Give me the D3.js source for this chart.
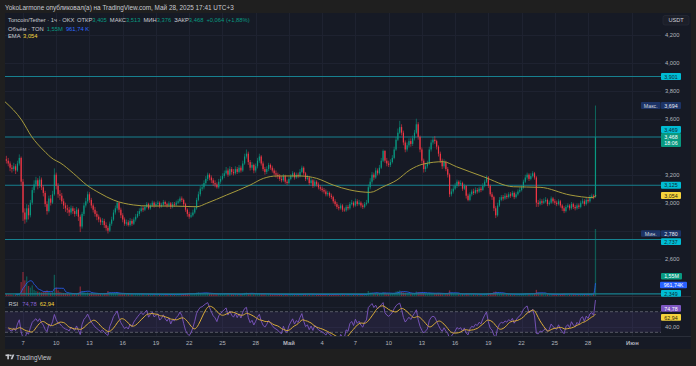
<!DOCTYPE html>
<html><head><meta charset="utf-8">
<script src="https://cdn.jsdelivr.net/npm/d3@7"></script>
<style>
html,body{margin:0;padding:0;background:#1f1f1f;overflow:hidden;}
svg{display:block;}
text{font-family:"Liberation Sans",Arial,sans-serif;}
</style></head><body>
<svg id="c" width="696" height="366"></svg>
<script>
// ---------------- DATA ----------------
const firstCandle = "2025-04-05T12:00Z";   // 4h candles, local time (UTC+3) shown as UTC
const candleHours = 4;
const firstOpen = 3.310;
const closes = [
 3.300,3.280,3.250,
 3.240,3.260,3.230,3.280,3.320,3.150,
 2.930,2.880,2.960,2.910,3.000,3.090,
 3.130,3.160,3.120,3.165,3.110,3.070,
 2.990,2.940,3.030,3.000,3.060,3.200,
 3.120,3.060,3.050,3.010,2.980,2.960,
 2.950,2.930,2.960,2.940,2.920,2.950,
 2.900,2.830,2.920,2.980,3.010,3.060,
 3.020,2.980,2.950,2.920,2.900,2.880,
 2.860,2.870,2.840,2.820,2.800,2.850,
 2.880,2.930,2.960,3.000,2.950,2.910,
 2.880,2.850,2.860,2.840,2.870,2.850,
 2.880,2.900,2.920,2.940,2.960,2.950,
 2.970,2.990,2.960,2.980,3.000,2.980,
 2.990,3.000,2.975,2.985,3.005,2.990,
 2.980,2.995,2.970,2.990,2.985,3.000,
 3.010,3.030,3.020,2.990,2.950,2.920,
 2.900,2.910,2.930,2.960,3.020,3.060,
 3.100,3.110,3.140,3.170,3.200,3.180,
 3.160,3.140,3.130,3.110,3.150,3.170,
 3.190,3.210,3.230,3.200,3.240,3.220,
 3.210,3.240,3.220,3.250,3.230,3.280,
 3.330,3.350,3.290,3.250,3.270,3.230,
 3.260,3.300,3.330,3.280,3.240,3.220,
 3.240,3.270,3.250,3.230,3.210,3.200,
 3.190,3.170,3.160,3.190,3.150,3.140,
 3.170,3.190,3.210,3.180,3.200,3.190,
 3.220,3.250,3.210,3.170,3.180,3.140,
 3.160,3.120,3.150,3.130,3.110,3.100,
 3.090,3.080,3.060,3.070,3.050,3.040,
 3.010,2.990,2.970,2.960,2.980,2.950,
 2.945,2.970,2.960,2.990,3.000,2.980,
 3.010,2.990,3.000,2.980,2.970,2.990,
 3.000,3.110,3.150,3.200,3.180,3.230,
 3.210,3.250,3.300,3.370,3.300,3.280,
 3.270,3.290,3.320,3.380,3.450,3.500,
 3.540,3.500,3.430,3.380,3.410,3.440,
 3.420,3.460,3.500,3.560,3.470,3.380,
 3.300,3.240,3.260,3.280,3.380,3.430,
 3.450,3.440,3.400,3.350,3.300,3.260,
 3.290,3.240,3.200,3.060,3.080,3.100,
 3.120,3.150,3.130,3.140,3.100,3.120,
 3.050,3.020,3.060,3.080,3.070,3.090,
 3.080,3.100,3.090,3.120,3.150,3.180,
 3.120,3.060,3.040,2.960,2.910,2.980,
 3.020,3.040,3.030,3.050,3.040,3.060,
 3.050,3.070,3.040,3.060,3.080,3.090,
 3.110,3.150,3.180,3.200,3.170,3.190,
 3.210,3.180,3.000,2.990,3.010,3.000,
 3.010,3.020,2.990,3.000,3.030,3.010,
 3.000,2.990,3.010,2.980,2.960,2.940,
 2.970,2.980,2.960,2.990,2.970,2.960,
 2.980,2.970,3.000,3.010,2.990,3.020,
 3.010,3.040,3.050,3.040,3.468
];
const highs = [
 3.335,3.320,3.295,
 3.270,3.285,3.275,3.300,3.345,3.330,
 3.170,2.960,2.990,2.985,3.020,3.110,
 3.160,3.185,3.175,3.190,3.180,3.125,
 3.085,3.010,3.050,3.055,3.085,3.245,
 3.215,3.140,3.090,3.070,3.030,3.000,
 2.985,2.970,2.980,2.975,2.960,2.970,
 2.960,2.915,2.935,3.000,3.035,3.080,
 3.075,3.035,2.995,2.970,2.940,2.915,
 2.895,2.890,2.885,2.860,2.835,2.865,
 2.900,2.950,2.980,3.010,3.005,2.965,
 2.925,2.895,2.880,2.875,2.890,2.885,
 2.895,2.920,2.940,2.960,2.980,2.975,
 2.985,3.005,3.000,2.995,3.015,3.010,
 3.005,3.015,3.010,3.000,3.020,3.015,
 3.000,3.010,3.005,3.005,3.005,3.015,
 3.025,3.045,3.045,3.030,3.000,2.960,
 2.935,2.930,2.950,2.975,3.035,3.080,
 3.120,3.135,3.160,3.190,3.215,3.210,
 3.195,3.175,3.160,3.145,3.170,3.190,
 3.210,3.230,3.255,3.245,3.260,3.255,
 3.240,3.260,3.255,3.270,3.265,3.300,
 3.350,3.380,3.365,3.305,3.290,3.280,
 3.280,3.320,3.350,3.340,3.295,3.255,
 3.260,3.285,3.280,3.265,3.245,3.230,
 3.215,3.205,3.190,3.205,3.200,3.165,
 3.185,3.205,3.225,3.220,3.215,3.215,
 3.240,3.265,3.260,3.220,3.200,3.190,
 3.180,3.170,3.165,3.160,3.145,3.125,
 3.115,3.105,3.095,3.085,3.080,3.065,
 3.050,3.025,3.005,2.985,2.995,2.990,
 2.965,2.985,2.985,3.005,3.020,3.010,
 3.030,3.025,3.020,3.010,2.995,3.005,
 3.020,3.130,3.175,3.220,3.215,3.250,
 3.245,3.270,3.320,3.380,3.375,3.320,
 3.300,3.310,3.340,3.400,3.470,3.530,
 3.585,3.560,3.515,3.445,3.430,3.460,
 3.460,3.480,3.520,3.600,3.575,3.480,
 3.395,3.315,3.285,3.300,3.400,3.450,
 3.470,3.475,3.450,3.410,3.365,3.315,
 3.310,3.300,3.255,3.210,3.100,3.120,
 3.140,3.165,3.160,3.160,3.150,3.135,
 3.125,3.065,3.075,3.095,3.100,3.110,
 3.105,3.115,3.115,3.140,3.165,3.195,
 3.190,3.130,3.075,3.050,2.975,3.000,
 3.040,3.055,3.055,3.070,3.065,3.075,
 3.075,3.085,3.080,3.075,3.095,3.110,
 3.125,3.165,3.200,3.215,3.210,3.210,
 3.225,3.220,3.190,3.020,3.030,3.025,
 3.030,3.040,3.030,3.015,3.045,3.040,
 3.025,3.015,3.025,3.020,2.990,2.975,
 2.985,2.995,2.990,3.005,3.000,2.985,
 2.995,2.995,3.015,3.030,3.025,3.035,
 3.035,3.055,3.065,3.060,3.694
];
const lows = [
 3.280,3.260,3.225,
 3.215,3.225,3.205,3.220,3.265,3.120,
 2.870,2.850,2.860,2.880,2.895,2.985,
 3.070,3.110,3.095,3.105,3.090,3.045,
 2.970,2.915,2.930,2.980,2.990,3.050,
 3.095,3.035,3.020,2.990,2.955,2.935,
 2.925,2.905,2.915,2.920,2.900,2.905,
 2.870,2.790,2.815,2.905,2.965,2.995,
 3.000,2.960,2.930,2.900,2.875,2.860,
 2.840,2.840,2.820,2.800,2.780,2.790,
 2.835,2.870,2.915,2.945,2.930,2.890,
 2.860,2.835,2.835,2.830,2.830,2.835,
 2.840,2.865,2.890,2.905,2.930,2.935,
 2.940,2.960,2.950,2.950,2.970,2.965,
 2.970,2.975,2.960,2.965,2.975,2.975,
 2.965,2.970,2.955,2.960,2.970,2.975,
 2.990,3.000,3.005,2.975,2.935,2.900,
 2.885,2.890,2.900,2.920,2.950,3.010,
 3.045,3.085,3.095,3.125,3.155,3.160,
 3.140,3.120,3.110,3.100,3.100,3.135,
 3.160,3.175,3.200,3.185,3.190,3.200,
 3.195,3.200,3.205,3.210,3.215,3.220,
 3.270,3.315,3.270,3.230,3.235,3.210,
 3.215,3.245,3.285,3.265,3.225,3.200,
 3.205,3.225,3.235,3.215,3.195,3.180,
 3.170,3.155,3.145,3.150,3.135,3.125,
 3.130,3.160,3.180,3.165,3.170,3.175,
 3.180,3.210,3.195,3.155,3.160,3.125,
 3.130,3.105,3.110,3.115,3.095,3.085,
 3.075,3.065,3.045,3.045,3.035,3.025,
 2.995,2.975,2.955,2.945,2.950,2.935,
 2.935,2.935,2.945,2.950,2.980,2.965,
 2.970,2.975,2.980,2.965,2.955,2.960,
 2.980,2.995,3.095,3.135,3.160,3.170,
 3.195,3.200,3.240,3.290,3.285,3.260,
 3.255,3.255,3.280,3.310,3.370,3.440,
 3.490,3.480,3.410,3.360,3.365,3.395,
 3.400,3.405,3.445,3.490,3.450,3.360,
 3.280,3.215,3.220,3.245,3.270,3.365,
 3.415,3.420,3.380,3.330,3.285,3.240,
 3.245,3.225,3.180,3.040,3.045,3.065,
 3.090,3.105,3.115,3.120,3.085,3.090,
 3.030,3.010,3.010,3.045,3.055,3.060,
 3.065,3.070,3.075,3.085,3.110,3.140,
 3.105,3.045,3.020,2.940,2.890,2.900,
 2.970,3.010,3.015,3.020,3.025,3.030,
 3.035,3.040,3.025,3.030,3.050,3.070,
 3.080,3.100,3.140,3.165,3.155,3.160,
 3.180,3.165,2.970,2.970,2.980,2.985,
 2.990,3.000,2.975,2.980,2.990,2.995,
 2.985,2.975,2.980,2.965,2.940,2.925,
 2.930,2.960,2.945,2.950,2.955,2.945,
 2.950,2.955,2.960,2.990,2.975,2.980,
 2.995,3.000,3.030,3.025,3.035
];
const volumes = [ // thousands TON per bar
 350,300,320,
 280,300,260,380,450,2500,
 4300,2800,3500,1800,1500,1900,
 1100,900,800,700,650,700,
 900,1000,800,600,700,3800,
 1500,1000,700,600,550,500,
 450,400,420,380,400,420,
 600,1700,900,700,600,650,
 500,480,450,420,400,450,
 420,380,450,500,900,700,
 550,500,480,600,450,420,
 400,420,380,450,400,380,
 350,380,360,400,380,340,
 320,300,340,310,330,300,
 280,260,300,270,290,260,
 250,270,260,280,250,270,
 300,380,320,350,420,450,
 500,380,350,400,600,650,
 550,500,520,480,550,420,
 400,380,350,370,420,400,
 380,400,420,380,400,350,
 320,340,300,330,310,420,
 550,600,500,420,380,350,
 360,400,450,420,380,340,
 320,350,330,300,310,290,
 280,300,270,290,300,280,
 270,290,300,260,280,270,
 300,350,320,330,280,300,
 280,300,270,260,280,270,
 260,250,280,260,270,250,
 300,320,310,290,280,300,
 280,270,260,300,290,270,
 280,260,270,250,260,270,
 300,900,650,600,450,500,
 420,480,550,700,600,450,
 400,380,450,600,800,900,
 1000,750,650,600,500,450,
 420,450,500,800,700,650,
 600,550,450,420,600,550,
 500,480,450,500,480,450,
 400,450,500,1000,600,450,
 400,380,350,360,380,350,
 450,400,380,350,330,320,
 300,290,300,320,380,420,
 500,550,500,750,800,600,
 450,400,380,350,340,330,
 320,310,300,290,310,330,
 350,400,450,420,380,360,
 400,420,1100,600,450,400,
 350,330,320,300,310,290,
 280,270,290,300,380,420,
 350,320,300,330,310,290,
 280,290,300,320,300,310,
 330,350,380,400,12000
];
const emaDates = ["2025-04-05T09:00Z","2025-04-06T21:00Z","2025-04-07T19:00Z","2025-04-08T20:00Z","2025-04-09T18:00Z","2025-04-10T08:00Z","2025-04-11T13:00Z","2025-04-12T18:00Z","2025-04-13T23:00Z","2025-04-15T04:00Z","2025-04-16T23:00Z","2025-04-18T11:00Z","2025-04-20T13:00Z","2025-04-22T16:00Z","2025-04-23T14:00Z","2025-04-25T09:00Z","2025-04-27T12:00Z","2025-04-28T17:00Z","2025-04-29T22:00Z","2025-05-02T00:00Z","2025-05-03T12:00Z","2025-05-05T00:00Z","2025-05-06T12:00Z","2025-05-08T08:00Z","2025-05-09T12:00Z","2025-05-10T18:00Z","2025-05-11T22:00Z","2025-05-13T03:00Z","2025-05-14T22:00Z","2025-05-16T03:00Z","2025-05-18T13:00Z","2025-05-21T06:00Z","2025-05-23T16:00Z","2025-05-26T09:00Z","2025-05-28T11:00Z","2025-05-28T17:00Z"];
const emaValues = [3.721,3.591,3.471,3.376,3.310,3.286,3.210,3.126,3.067,3.019,2.984,2.976,2.976,2.971,2.996,3.055,3.126,3.174,3.191,3.191,3.174,3.126,3.091,3.074,3.114,3.162,3.234,3.276,3.293,3.257,3.186,3.114,3.110,3.055,3.036,3.054];
const hLevels = [3.901, 3.469, 3.125, 2.737, 2.349];
const priceTicks = [4.2, 4.0, 3.8, 3.6, 3.4, 3.2, 3.0, 2.8, 2.6];
const rsiTicks = [80, 40];
const tickDates = ["2025-04-07","2025-04-10","2025-04-13","2025-04-16","2025-04-19","2025-04-22","2025-04-25","2025-04-28","2025-05-01","2025-05-04","2025-05-07","2025-05-10","2025-05-13","2025-05-16","2025-05-19","2025-05-22","2025-05-25","2025-05-28","2025-06-01"];
const tickLabels = ["7","10","13","16","19","22","25","28","Май","4","7","10","13","16","19","22","25","28","Июн"];
const headerText = "YokoLarmone опубликовал(а) на TradingView.com, Май 28, 2025 17:41 UTC+3";
const ohlcLast = {o:"3,405", h:"3,513", l:"3,376", c:"3,468", chg:"+0,064 (+1,88%)"};
const volLast = "1,55M", volMA = "961,74 K", emaLast = "3,054";
const rsiLast = "74,78", rsiMaLast = "62,94";
const maxPrice = 3.694, minPrice = 2.780;

// ---------------- LAYOUT ----------------
const W = 696, H = 366;
const PL = 5, PR = 661, AXR = 691, PT = 13, MB = 296, RT = 297, RB = 336, TB = 349;
const UP = "#089981", DN = "#f23645", CYAN = "#00bcd4", LINE = "#17808f";
const FS = 5.8;

const svg = d3.select("#c");
const loc = d3.formatLocale({decimal: ",", thousands: " ", grouping: [3], currency: ["", ""]});
const fmt3 = loc.format(".3f"), fmt2 = loc.format(".2f");

svg.append("rect").attr("width", W).attr("height", H).attr("fill", "#1f1f1f");
svg.append("rect").attr("x", PL).attr("y", PT).attr("width", AXR - PL).attr("height", TB - PT).attr("fill", "#161a25");

const x = d3.scaleUtc().domain([new Date("2025-04-07T00:00Z"), new Date("2025-06-01T00:00Z")]).range([23, 632.4]);
const y = d3.scaleLinear().domain([3.0, 4.2]).range([202.7, 34.7]);
const yr = d3.scaleLinear().domain([30, 70]).range([332.3, 311.7]);
const yv = d3.scaleLinear().domain([0, 12000]).range([MB, 229]);

const t0 = d3.isoParse(firstCandle).getTime();
const candles = closes.map((c, i) => ({
  t: new Date(t0 + i * candleHours * 3600e3),
  o: i === 0 ? firstOpen : closes[i - 1], c, h: highs[i], l: lows[i], v: volumes[i]
}));

// clip paths
const defs = svg.append("defs");
defs.append("clipPath").attr("id", "cm").append("rect").attr("x", PL).attr("y", PT).attr("width", PR - PL).attr("height", MB - PT);
defs.append("clipPath").attr("id", "cr").append("rect").attr("x", PL).attr("y", RT).attr("width", PR - PL).attr("height", RB - RT);

// grid
const g = svg.append("g");
tickDates.forEach(d => {
  const xx = Math.round(x(d3.isoParse(d + "T00:00Z"))) + 0.5;
  g.append("line").attr("x1", xx).attr("x2", xx).attr("y1", PT).attr("y2", RB).attr("stroke", "#1e2230").attr("stroke-width", 1);
});
priceTicks.forEach(p => {
  const yy = Math.round(y(p)) + 0.5;
  g.append("line").attr("x1", PL).attr("x2", PR).attr("y1", yy).attr("y2", yy).attr("stroke", "#1e2230");
});
rsiTicks.forEach(r => {
  const yy = Math.round(yr(r)) + 0.5;
  g.append("line").attr("x1", PL).attr("x2", PR).attr("y1", yy).attr("y2", yy).attr("stroke", "#1e2230");
});
// pane separators
svg.append("line").attr("x1", PL).attr("x2", AXR).attr("y1", MB + 0.5).attr("y2", MB + 0.5).attr("stroke", "#2a2e39");
svg.append("line").attr("x1", PL).attr("x2", AXR).attr("y1", RB + 0.5).attr("y2", RB + 0.5).attr("stroke", "#2a2e39");

// main pane
const main = svg.append("g").attr("clip-path", "url(#cm)");
// volume
const vmaN = 6;
const vma = candles.map((d, i) => i < vmaN - 1 ? null : d3.mean(volumes.slice(i - vmaN + 1, i + 1)));
main.append("g").selectAll("rect").data(candles).join("rect")
  .attr("x", d => x(d.t) - 0.65).attr("width", 1.3)
  .attr("y", d => yv(d.v)).attr("height", d => MB - yv(d.v))
  .attr("fill", d => d.c >= d.o ? UP : DN).attr("opacity", 0.5);
main.append("path").datum(candles.map((d, i) => [d.t, vma[i]]).filter(d => d[1] !== null))
  .attr("d", d3.line().x(d => x(d[0])).y(d => yv(d[1])).curve(d3.curveMonotoneX))
  .attr("fill", "none").attr("stroke", "#2962ff").attr("stroke-width", 1).attr("opacity", 0.8);

// horizontal drawn levels
hLevels.forEach(p => {
  main.append("line").attr("x1", PL).attr("x2", PR).attr("y1", y(p)).attr("y2", y(p)).attr("stroke", LINE).attr("stroke-width", 1.1);
});

// candles
const cg = main.append("g");
cg.selectAll("line").data(candles).join("line")
  .attr("x1", d => x(d.t)).attr("x2", d => x(d.t))
  .attr("y1", d => y(Math.max(d.h, d.o, d.c))).attr("y2", d => y(Math.min(d.l, d.o, d.c)))
  .attr("stroke", d => d.c >= d.o ? UP : DN).attr("stroke-width", 0.6);
cg.selectAll("rect").data(candles).join("rect")
  .attr("x", d => x(d.t) - 0.6).attr("width", 1.2)
  .attr("y", d => y(Math.max(d.o, d.c))).attr("height", d => Math.max(0.6, Math.abs(y(d.o) - y(d.c))))
  .attr("fill", d => d.c >= d.o ? UP : DN);

// EMA
main.append("path").datum(emaDates.map((d, i) => [d3.isoParse(d), emaValues[i]]))
  .attr("d", d3.line().x(d => x(d[0])).y(d => y(d[1])).curve(d3.curveMonotoneX))
  .attr("fill", "none").attr("stroke", "#a69a3c").attr("stroke-width", 1);

// RSI pane (Wilder RSI on the bars, plus its moving average)
const rsiN = 7, rsiMaN = 7;
const rsi = [];
let ag = 0, al = 0;
candles.forEach((d, i) => {
  const ch = d.c - d.o;
  const gn = Math.max(ch, 0), ls = Math.max(-ch, 0);
  if (i === 0) { ag = gn + 0.02; al = ls + 0.02; }
  else { ag = (ag * (rsiN - 1) + gn) / rsiN; al = (al * (rsiN - 1) + ls) / rsiN; }
  rsi.push(100 - 100 / (1 + ag / al));
});
const rsiMa = rsi.map((r, i) => d3.mean(rsi.slice(Math.max(0, i - rsiMaN + 1), i + 1)));
const rp = svg.append("g").attr("clip-path", "url(#cr)");
rp.append("rect").attr("x", PL).attr("width", PR - PL).attr("y", yr(70)).attr("height", yr(30) - yr(70)).attr("fill", "#7e57c2").attr("opacity", 0.12);
[70, 30].forEach(r => rp.append("line").attr("x1", PL).attr("x2", PR).attr("y1", yr(r)).attr("y2", yr(r))
  .attr("stroke", "#787b86").attr("stroke-dasharray", "3,2").attr("stroke-width", 0.8).attr("opacity", 0.8));
rp.append("path").datum(candles.map((d, i) => [d.t, rsi[i]]).slice(1))
  .attr("d", d3.line().x(d => x(d[0])).y(d => yr(d[1])))
  .attr("fill", "none").attr("stroke", "#7e57c2").attr("stroke-width", 0.9);
rp.append("path").datum(candles.map((d, i) => [d.t, rsiMa[i]]).slice(1))
  .attr("d", d3.line().x(d => x(d[0])).y(d => yr(d[1])).curve(d3.curveBasis))
  .attr("fill", "none").attr("stroke", "#d9ab38").attr("stroke-width", 1);

// text helper
function txt(sel, s, xx, yy, col, opts = {}) {
  return sel.append("text").attr("x", xx).attr("y", yy).text(s).attr("fill", col)
    .attr("font-size", opts.size || FS).attr("text-anchor", opts.anchor || "start")
    .attr("font-weight", opts.weight || "normal").attr("dominant-baseline", "central");
}
// a text line built from coloured pieces that flow one after another
function flow(xx, yy, parts, size) {
  const t = svg.append("text").attr("x", xx).attr("y", yy).attr("font-size", size || FS).attr("dominant-baseline", "central");
  parts.forEach(([s, col, dx]) => t.append("tspan").attr("fill", col).attr("dx", dx || 0).text(s));
  return t;
}

// tag boxes on the price axis (drawn first so we can skip tick labels they cover)
const tags = [];
function tag(x0, yc, w, h, bg, label, col) {
  tags.push([yc - h / 2, yc + h / 2]);
  svg.append("rect").attr("x", x0).attr("y", yc - h / 2).attr("width", w).attr("height", h).attr("rx", 1).attr("fill", bg);
  txt(svg, label, x0 + w / 2, yc + 0.2, col, {anchor: "middle", size: 5.3});
}
const DK = "#0f2a33";
svg.append("rect").attr("x", 663).attr("y", 15.5).attr("width", 26).attr("height", 9.5).attr("rx", 2).attr("fill", "#1c1f29").attr("stroke", "#2a2e39").attr("stroke-width", 0.6);
txt(svg, "USDT", 676, 20.3, "#d1d4dc", {anchor: "middle", size: 5.6});

tag(661, y(hLevels[0]), 20, 7, CYAN, fmt3(hLevels[0]), DK);
tag(641, y(maxPrice), 19.5, 7, "#1c3366", "Макс.", "#d1d4dc");
tag(661, y(maxPrice), 20, 7, "#1c3366", fmt3(maxPrice), "#e8eaf0");
tag(661, 129.5, 20, 7, CYAN, fmt3(hLevels[1]), DK);
tags.push([133, 147]);
svg.append("rect").attr("x", 661).attr("y", 133).attr("width", 20).attr("height", 14).attr("rx", 1).attr("fill", UP);
txt(svg, ohlcLast.c, 671, 136.6, "#ffffff", {anchor: "middle", size: 5.3});
txt(svg, "18:06", 671, 143.4, "#ffffff", {anchor: "middle", size: 5.3});
tag(661, y(hLevels[2]), 20, 7, CYAN, fmt3(hLevels[2]), DK);
tag(661, 195.6, 20, 7, "#f5d33c", emaLast, "#2a2410");
tag(641, y(minPrice), 19.5, 6.5, "#1c3366", "Мин.", "#d1d4dc");
tag(661, y(minPrice), 20, 6.5, "#1c3366", fmt3(minPrice), "#e8eaf0");
tag(661, 241.7, 20, 6.7, CYAN, fmt3(hLevels[3]), DK);
tag(661, 276.2, 21, 6.5, UP, volLast, "#ffffff");
tag(660, 285, 27, 6.6, "#2962ff", volMA.replace(" ", ""), "#ffffff");
tag(661, 293.4, 20, 6.6, CYAN, fmt3(hLevels[4]), DK);
tag(661, 308.3, 20, 6.7, "#7e57c2", rsiLast, "#ffffff");
tag(661, 317.3, 20, 6.7, "#f5d33c", rsiMaLast, "#2a2410");

// price axis labels (a label hidden behind a tag is not drawn, as on the reference)
const covered = yy => tags.some(([a, b]) => yy > a - 2.5 && yy < b + 2.5);
priceTicks.forEach(p => { if (!covered(y(p))) txt(svg, fmt3(p), 665, y(p), "#b2b5be"); });
rsiTicks.forEach(r => { if (!covered(yr(r))) txt(svg, fmt2(r), 665, yr(r) + 0.3, "#b2b5be"); });

// time axis labels
tickDates.forEach((d, i) => {
  const isMonth = isNaN(+tickLabels[i]);
  txt(svg, tickLabels[i], x(d3.isoParse(d + "T00:00Z")), 342.7, "#b2b5be", {anchor: "middle", weight: isMonth ? "bold" : "normal"});
});

// header
txt(svg, headerText, 5, 7.3, "#c8cad0", {size: 6.4});

// legend
const LC = "#c8cad0";
flow(8, 20.2, [["Toncoin/Tether · 1ч · OKX", LC], ["ОТКР", LC, 2.5], [ohlcLast.o, UP], ["МАКС", LC, 3], [ohlcLast.h, UP],
  ["МИН", LC, 3], [ohlcLast.l, UP], ["ЗАКР", LC, 3], [ohlcLast.c, UP], [ohlcLast.chg, UP, 3]]);
flow(8, 29, [["Объём · TON", LC], [volLast, UP, 3], [volMA, "#2f6bff", 3]]);
flow(8, 35.8, [["EMA", LC], [emaLast, "#f5d33c", 2.5]]);
flow(8.5, 304, [["RSI", LC], [rsiLast, "#8a63d2", 4], [rsiMaLast, "#f5d33c", 3]]);

// TradingView logo
const lg = svg.append("g").attr("fill", "#c8cad0");
lg.append("rect").attr("x", 5.5).attr("y", 354.5).attr("width", 4.2).attr("height", 1.6);
lg.append("rect").attr("x", 7.3).attr("y", 354.5).attr("width", 1.6).attr("height", 4.8);
lg.append("circle").attr("cx", 10.8).attr("cy", 355.4).attr("r", 0.9);
lg.append("path").attr("d", "M12.6,354.5 L14.4,354.5 L12.4,359.3 L10.6,359.3 Z");
txt(svg, "TradingView", 16, 357.2, "#c8cad0", {size: 6.4});
</script>
</body></html>
